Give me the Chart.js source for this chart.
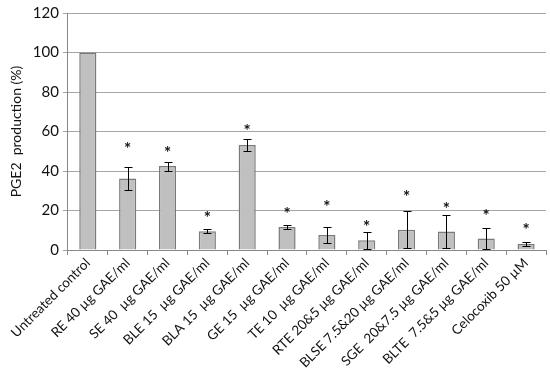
<!DOCTYPE html>
<html>
<head>
<meta charset="utf-8">
<script src="https://cdn.jsdelivr.net/npm/chart.js"></script>
<style>
  html, body { margin: 0; padding: 0; background: #fff; }
  #wrap { width: 550px; height: 371px; }
</style>
</head>
<body>
<div id="wrap"><canvas id="pge2"></canvas></div>
<script>
// values
var categories = ["Untreated control", "RE 40 µg GAE/ml", "SE 40  µg GAE/ml", "BLE 15  µg GAE/ml",
    "BLA 15  µg GAE/ml", "GE 15  µg GAE/ml", "TE 10  µg GAE/ml", "RTE 20&5 µg GAE/ml",
    "BLSE 7.5&20 µg GAE/ml", "SGE  20&7.5 µg GAE/ml", "BLTE  7.5&5 µg GAE/ml", "Celocoxib 50 µM"];
var pge2 = [100, 36.2, 42.5, 9.5, 53.2, 11.7, 7.6, 4.9, 10.3, 9.4, 5.8, 3.1];
var errs = [0, 5.7, 2.3, 1.0, 3.1, 0.9, 4.0, 4.2, 9.5, 8.2, 5.3, 0.9];
var starAt = [null, 53, 51, 18, 62, 20, 23.7, 13.5, 28.5, 22.7, 19, 11.9];
var yTicks = [0, 20, 40, 60, 80, 100, 120];

var fontFam = "Lato, 'Liberation Sans', sans-serif";

var errorBars = {
    id: 'errorBars',
    afterDatasetsDraw: function (chart) {
        var ctx = chart.ctx;
        var y = chart.scales.y;
        var meta = chart.getDatasetMeta(0);
        ctx.save();
        ctx.strokeStyle = '#000';
        ctx.lineWidth = 1;
        ctx.fillStyle = '#111';
        ctx.font = "bold 17px " + fontFam;
        ctx.textAlign = 'center';
        ctx.textBaseline = 'middle';
        meta.data.forEach(function (bar, i) {
            var x = Math.round(bar.x) + 0.5;
            if (errs[i] > 0) {
                var top = Math.round(y.getPixelForValue(pge2[i] + errs[i])) + 0.5;
                var bot = Math.round(y.getPixelForValue(Math.max(0, pge2[i] - errs[i]))) + 0.5;
                ctx.beginPath();
                ctx.moveTo(x, top); ctx.lineTo(x, bot);
                ctx.moveTo(x - 4, top); ctx.lineTo(x + 4, top);
                ctx.moveTo(x - 4, bot); ctx.lineTo(x + 4, bot);
                ctx.stroke();
            }
            if (starAt[i] != null) {
                ctx.fillText('*', bar.x, y.getPixelForValue(starAt[i]) + 4);
            }
        });
        ctx.restore();
    }
};

new Chart(document.getElementById('pge2'), {
    type: 'bar',
    data: {
        labels: categories,
        datasets: [{
            data: pge2,
            backgroundColor: '#c0c0c0',
            borderColor: '#7a7a7a',
            borderWidth: 1.5,
            categoryPercentage: 1,
            barPercentage: 0.43
        }]
    },
    options: {
        responsive: true,
        maintainAspectRatio: false,
        animation: false,
        layout: { padding: { top: 6, right: 4, left: 4, bottom: 0 } },
        plugins: { legend: { display: false }, tooltip: { enabled: false } },
        scales: {
            x: {
                grid: { offset: true, drawOnChartArea: false, color: '#888', tickLength: 5 },
                border: { color: '#888' },
                ticks: {
                    minRotation: 45, maxRotation: 45, autoSkip: false,
                    color: '#111', font: { family: fontFam, size: 13.5 }, padding: 0
                }
            },
            y: {
                min: 0, max: 120,
                afterBuildTicks: function (axis) {
                    axis.ticks = yTicks.map(function (v) { return { value: v }; });
                },
                grid: { color: '#a6a6a6', tickLength: 5 },
                border: { color: '#888' },
                ticks: { color: '#111', font: { family: fontFam, size: 15 }, padding: 4 },
                title: {
                    display: true, text: 'PGE2  production (%)', color: '#111',
                    font: { family: fontFam, size: 14 }, padding: { top: 4, bottom: 4 }
                }
            }
        }
    },
    plugins: [errorBars]
});
</script>
</body>
</html>
